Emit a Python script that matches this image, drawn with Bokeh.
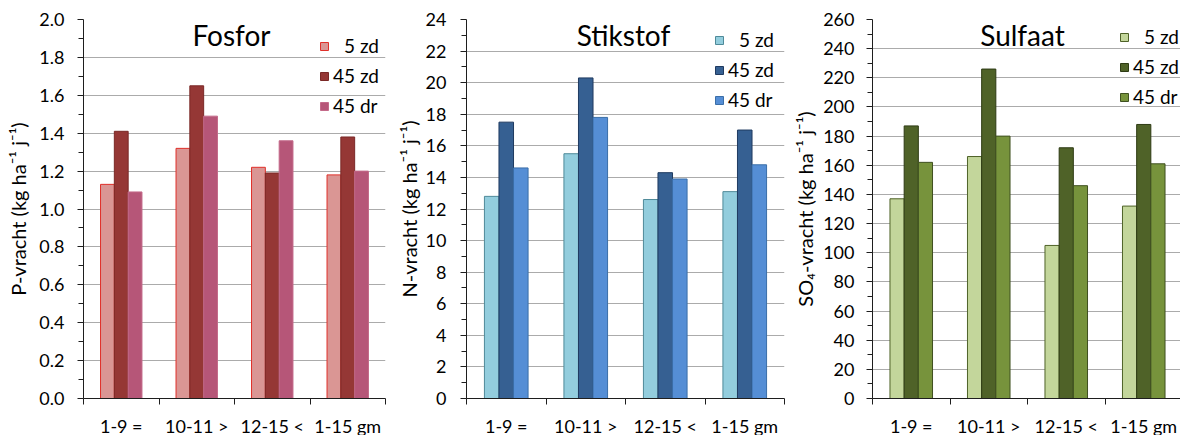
from bokeh.plotting import figure
from bokeh.layouts import row
from bokeh.models import (Range1d, FixedTicker, Legend, LegendItem, Label,
                          PrintfTickFormatter, ColumnDataSource)
from bokeh.transform import dodge
from bokeh.embed import file_html
from bokeh.resources import INLINE

# --- data -------------------------------------------------------------
categories = ["1-9 =", "10-11 >", "12-15 <", "1-15 gm"]
series_labels = ["\u20075 zd", "45 zd", "45 dr"]

fosfor_5zd = [1.13, 1.32, 1.22, 1.18]
fosfor_45zd = [1.41, 1.65, 1.19, 1.38]
fosfor_45dr = [1.09, 1.49, 1.36, 1.20]

stikstof_5zd = [12.8, 15.5, 12.6, 13.1]
stikstof_45zd = [17.5, 20.3, 14.3, 17.0]
stikstof_45dr = [14.6, 17.8, 13.9, 14.8]

sulfaat_5zd = [137, 166, 105, 132]
sulfaat_45zd = [187, 226, 172, 188]
sulfaat_45dr = [162, 180, 146, 161]

fosfor_ticks = [0.0, 0.2, 0.4, 0.6, 0.8, 1.0, 1.2, 1.4, 1.6, 1.8, 2.0]
stikstof_ticks = [0, 2, 4, 6, 8, 10, 12, 14, 16, 18, 20, 22, 24]
sulfaat_ticks = [0, 20, 40, 60, 80, 100, 120, 140, 160, 180, 200, 220, 240, 260]

FONT = "Lato"
BAR_W = 0.183
FRAME_H = 379


def panel(title, ylabel, values, ticks, fmt, fills, lines, left, frame_w, right,
          label_standoff, tick_standoff, legend_xy, title_x):
    n = len(categories)
    centers = [i + 0.5 for i in range(n)]
    src = ColumnDataSource(dict(x=centers, a=values[0], b=values[1], c=values[2]))

    p = figure(frame_width=frame_w, frame_height=FRAME_H,
               min_border_left=left, min_border_right=right,
               min_border_top=19, min_border_bottom=37,
               x_range=Range1d(0, n), y_range=Range1d(ticks[0], ticks[-1]),
               output_backend="svg", toolbar_location=None,
               background_fill_color="white", border_fill_color="white")
    p.outline_line_color = None

    renderers = []
    for off, col, fc, lc in zip((-BAR_W, 0.0, BAR_W), ("a", "b", "c"), fills, lines):
        r = p.vbar(x=dodge("x", off), top=col, bottom=0, width=BAR_W, source=src,
                   fill_color=fc, line_color=lc, line_width=1)
        renderers.append(r)

    # y axis
    step = ticks[1] - ticks[0]
    minor = [t + step / 2 for t in ticks[:-1]]
    p.yaxis.ticker = FixedTicker(ticks=ticks, minor_ticks=minor)
    p.yaxis.formatter = PrintfTickFormatter(format=fmt)
    p.yaxis.axis_label = ylabel
    p.yaxis.axis_label_text_font = FONT
    p.yaxis.axis_label_text_font_style = "normal"
    p.yaxis.axis_label_text_font_size = "20px"
    p.yaxis.axis_label_text_color = "black"
    p.yaxis.axis_label_standoff = label_standoff
    p.yaxis.major_label_text_font = FONT
    p.yaxis.major_label_text_font_size = "18px"
    p.yaxis.major_label_text_color = "black"
    p.yaxis.major_label_standoff = tick_standoff
    p.yaxis.major_tick_out = 6
    p.yaxis.major_tick_in = 0
    p.yaxis.minor_tick_out = 5
    p.yaxis.minor_tick_in = 0
    p.yaxis.axis_line_color = "#1e1e1e"
    p.yaxis.major_tick_line_color = "#1e1e1e"
    p.yaxis.minor_tick_line_color = "#1e1e1e"

    # x axis: labels at category centres, ticks on category boundaries
    p.xaxis.ticker = FixedTicker(ticks=centers, minor_ticks=list(range(n + 1)))
    p.xaxis.major_label_overrides = {c: lab for c, lab in zip(centers, categories)}
    p.xaxis.major_label_text_font = FONT
    p.xaxis.major_label_text_font_size = "18px"
    p.xaxis.major_label_text_color = "black"
    p.xaxis.major_label_standoff = 10
    p.xaxis.major_tick_out = 0
    p.xaxis.major_tick_in = 0
    p.xaxis.minor_tick_out = 6
    p.xaxis.minor_tick_in = 0
    p.xaxis.axis_line_color = "#1e1e1e"
    p.xaxis.minor_tick_line_color = "#1e1e1e"

    p.xgrid.visible = False
    p.ygrid.grid_line_color = "#ababab"
    p.ygrid.grid_line_width = 1

    p.add_layout(Label(x=title_x, y=FRAME_H - 15, x_units="screen", y_units="screen",
                       text=title, text_font=FONT, text_font_size="28px",
                       text_align="center", text_baseline="alphabetic",
                       text_color="black"))

    legend = Legend(items=[LegendItem(label=lab, renderers=[r])
                           for lab, r in zip(series_labels, renderers)],
                    location=legend_xy, padding=0, margin=0, spacing=7,
                    glyph_width=10, glyph_height=10, label_height=20,
                    label_standoff=4, label_text_font=FONT,
                    label_text_font_size="19px", label_text_color="black",
                    background_fill_alpha=0, border_line_color=None)
    p.add_layout(legend)
    return p


p1 = panel("Fosfor", "P-vracht (kg ha\u207b\u00b9 j\u207b\u00b9)",
           (fosfor_5zd, fosfor_45zd, fosfor_45dr), fosfor_ticks, "%.1f",
           ("#DA9694", "#953735", "#B65678"), ("#E0302A", "#7A2826", "#C46A8A"),
           left=83, frame_w=302, right=8, label_standoff=6, tick_standoff=13,
           legend_xy=(236, 281), title_x=148)

p2 = panel("Stikstof", "N-vracht (kg ha\u207b\u00b9 j\u207b\u00b9)",
           (stikstof_5zd, stikstof_45zd, stikstof_45dr), stikstof_ticks, "%d",
           ("#93CDDD", "#366092", "#558ED5"), ("#4F8A99", "#1F3A60", "#3A6EA8"),
           left=69, frame_w=318, right=5, label_standoff=2, tick_standoff=14,
           legend_xy=(248, 287), title_x=157)

p3 = panel("Sulfaat", "SO\u2084-vracht (kg ha\u207b\u00b9 j\u207b\u00b9)",
           (sulfaat_5zd, sulfaat_45zd, sulfaat_45dr), sulfaat_ticks, "%d",
           ("#C3D69B", "#4F6228", "#77933C"), ("#4F6228", "#2E3B14", "#3F5020"),
           left=83, frame_w=310, right=2, label_standoff=3, tick_standoff=12,
           legend_xy=(247, 290), title_x=150)

layout = row(p1, p2, p3, spacing=0)
open("out.html", "w").write(file_html(layout, INLINE))
